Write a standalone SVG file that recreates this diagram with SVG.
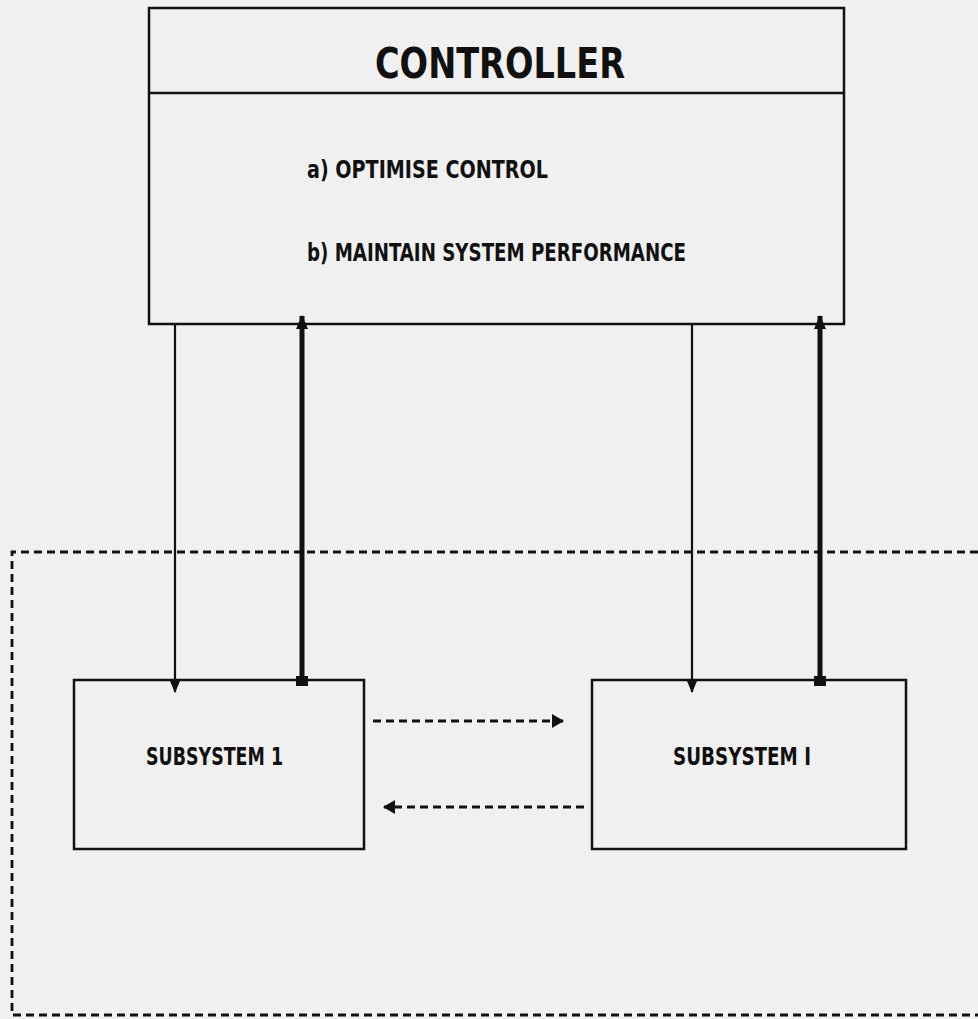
<svg xmlns="http://www.w3.org/2000/svg" width="978" height="1019" viewBox="0 0 978 1019">
<defs>
<style>
.box{fill:none;stroke:#111;stroke-width:2.5}
.t{font-family:"DejaVu Sans Condensed","Liberation Sans Narrow","Liberation Sans",sans-serif;font-weight:bold;fill:#111}
.thin{stroke:#111;stroke-width:2.2;fill:none}
.thick{stroke:#111;stroke-width:5;fill:none}
.dash{stroke:#111;stroke-width:2.8;fill:none;stroke-dasharray:8 5}
</style>
<marker id="ah" viewBox="0 0 12 10" refX="11" refY="5" markerWidth="12" markerHeight="10" markerUnits="userSpaceOnUse" orient="auto">
<path d="M0,0 L12,5 L0,10 Z" fill="#111"/>
</marker>
<marker id="ahk" viewBox="0 0 14 12" refX="13" refY="6" markerWidth="14" markerHeight="12" markerUnits="userSpaceOnUse" orient="auto">
<path d="M0,0 L14,6 L0,12 Z" fill="#111"/>
</marker>
<marker id="ahd" viewBox="0 0 12 14" refX="11" refY="7" markerWidth="12" markerHeight="14" markerUnits="userSpaceOnUse" orient="auto">
<path d="M0,0 L12,7 L0,14 Z" fill="#111"/>
</marker>
</defs>
<rect x="0" y="0" width="978" height="1019" fill="#f0f0f0"/>
<g id="boundary">
<path class="dash" d="M978,552 L12,552 L12,1015 L978,1015"/>
</g>
<g id="controller">
<rect class="box" x="149" y="8" width="695" height="316"/>
<line class="box" x1="149" y1="93" x2="844" y2="93"/>
<text class="t" x="500" y="78" font-size="42" text-anchor="middle" textLength="250" lengthAdjust="spacingAndGlyphs">CONTROLLER</text>
<text class="t" x="307" y="178" font-size="24" textLength="241" lengthAdjust="spacingAndGlyphs">a) OPTIMISE CONTROL</text>
<text class="t" x="307" y="261" font-size="24" textLength="379" lengthAdjust="spacingAndGlyphs">b) MAINTAIN SYSTEM PERFORMANCE</text>
</g>
<g id="subsystem1">
<rect class="box" x="74" y="680" width="290" height="169"/>
<text class="t" x="146" y="765" font-size="24" textLength="137" lengthAdjust="spacingAndGlyphs">SUBSYSTEM 1</text>
</g>
<g id="subsystemI">
<rect class="box" x="592" y="680" width="314" height="169"/>
<text class="t" x="673" y="765" font-size="24" textLength="138" lengthAdjust="spacingAndGlyphs">SUBSYSTEM I</text>
</g>
<g id="connectors">
<line class="thin" x1="175" y1="325" x2="175" y2="692" marker-end="url(#ah)"/>
<line class="thick" x1="302" y1="682" x2="302" y2="316" marker-end="url(#ahk)"/>
<rect x="296" y="676" width="12" height="10" fill="#111"/>
<line class="thin" x1="692" y1="325" x2="692" y2="692" marker-end="url(#ah)"/>
<line class="thick" x1="820" y1="682" x2="820" y2="316" marker-end="url(#ahk)"/>
<rect x="814" y="676" width="12" height="10" fill="#111"/>
<line class="dash" x1="373" y1="721" x2="563" y2="721" marker-end="url(#ahd)"/>
<line class="dash" x1="584" y1="807" x2="384" y2="807" marker-end="url(#ahd)"/>
</g>
</svg>
